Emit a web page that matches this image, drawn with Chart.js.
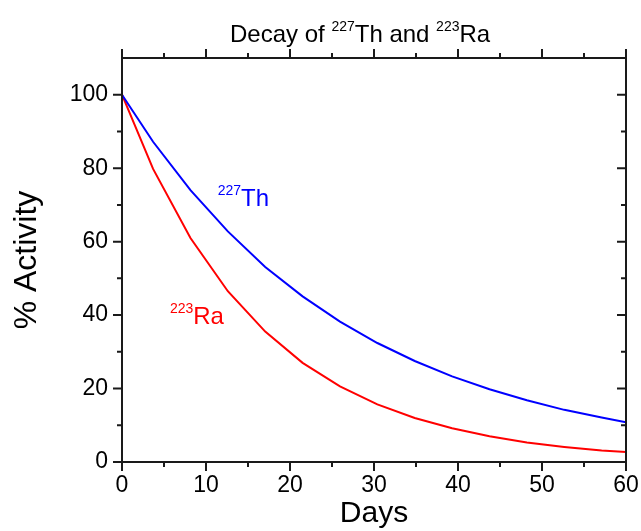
<!DOCTYPE html>
<html>
<head>
<meta charset="utf-8">
<script src="https://cdn.jsdelivr.net/npm/chart.js@4/dist/chart.umd.min.js"></script>
<style>
  html, body { margin: 0; padding: 0; background: #fff; }
  #wrap { width: 641px; height: 531px; }
</style>
</head>
<body>
<div id="wrap"><canvas id="decay" width="641" height="531"></canvas></div>
<script>
// values
const days  = [0, 3.7, 8.15, 12.6, 17.05, 21.5, 25.95, 30.4, 34.85, 39.3, 43.75, 48.2, 52.65, 57.1, 60];
const th227 = [100, 87.2, 74.0, 62.8, 53.1, 45.1, 38.2, 32.4, 27.5, 23.3, 19.8, 16.8, 14.2, 12.1, 10.8];
const ra223 = [100, 79.8, 61.0, 46.5, 35.5, 27.0, 20.6, 15.7, 12.0, 9.2, 7.0, 5.3, 4.1, 3.1, 2.7];

const xTicks = [0, 10, 20, 30, 40, 50, 60];
const xMinor = [5, 15, 25, 35, 45, 55];
const yTicks = [0, 20, 40, 60, 80, 100];
const yMinor = [10, 30, 50, 70, 90];

const FONT = "'Liberation Sans', Arial, sans-serif";
const AXIS = '#1a1a1a';

function pts(ys) {
    return days.map((d, i) => ({ x: d, y: ys[i] }));
}

// draws text like "227Th" with a raised small part
function supText(ctx, parts, x, y, size, supSize, color) {
    ctx.save();
    ctx.fillStyle = color;
    ctx.textBaseline = 'alphabetic';
    ctx.textAlign = 'left';
    let cx = x;
    parts.forEach(p => {
        ctx.font = (p[1] ? supSize : size) + 'px ' + FONT;
        ctx.fillText(p[0], cx, p[1] ? y - size * 0.46 : y);
        cx += ctx.measureText(p[0]).width;
    });
    ctx.restore();
}

const frame_plugin = {
    id: 'frame',
    afterDraw(chart) {
        const ctx = chart.ctx;
        const a = chart.chartArea;
        const xs = chart.scales.x, ys = chart.scales.y;
        ctx.save();
        ctx.strokeStyle = AXIS;
        ctx.lineWidth = 2;
        ctx.strokeRect(a.left, a.top, a.right - a.left, a.bottom - a.top);
        ctx.beginPath();
        const tick = (vals, len) => {
            vals.forEach(v => {
                const px = xs.getPixelForValue(v);
                ctx.moveTo(px, a.bottom); ctx.lineTo(px, a.bottom + len);
                ctx.moveTo(px, a.top); ctx.lineTo(px, a.top - len);
            });
        };
        const ytick = (vals, len) => {
            vals.forEach(v => {
                const py = ys.getPixelForValue(v);
                ctx.moveTo(a.left, py); ctx.lineTo(a.left - len, py);
                ctx.moveTo(a.right, py); ctx.lineTo(a.right - len, py);
            });
        };
        tick(xTicks, 9);
        tick(xMinor, 5);
        ytick(yTicks, 9);
        ytick(yMinor, 5);
        ctx.stroke();
        ctx.restore();

        // title
        supText(ctx, [['Decay of ', false], ['227', true], ['Th and ', false], ['223', true], ['Ra', false]],
            230, 42, 24, 14, '#000');

        // curve labels
        supText(ctx, [['227', true], ['Th', false]],
            xs.getPixelForValue(11.4), ys.getPixelForValue(69.8), 24, 14, '#0000ff');
        supText(ctx, [['223', true], ['Ra', false]],
            xs.getPixelForValue(5.7), ys.getPixelForValue(37.6), 24, 14, '#ff0000');
    }
};

new Chart(document.getElementById('decay'), {
    type: 'scatter',
    data: {
        datasets: [{
            label: '227Th',
            data: pts(th227),
            showLine: true,
            borderColor: '#0000ff',
            borderWidth: 2,
            pointRadius: 0,
            tension: 0
        }, {
            label: '223Ra',
            data: pts(ra223),
            showLine: true,
            borderColor: '#ff0000',
            borderWidth: 2,
            pointRadius: 0,
            tension: 0
        }]
    },
    options: {
        responsive: false,
        animation: false,
        events: [],
        layout: { padding: { left: 0, right: 15, top: 58, bottom: 0 } },
        plugins: {
            legend: { display: false },
            tooltip: { enabled: false }
        },
        scales: {
            x: {
                type: 'linear',
                min: 0,
                max: 60,
                grid: { display: false, drawTicks: false },
                border: { display: false },
                afterBuildTicks: s => { s.ticks = xTicks.map(v => ({ value: v })); },
                afterFit: s => { s.height = 69; s.paddingLeft = 0; s.paddingRight = 0; },
                ticks: { padding: 10, color: '#000', font: { family: FONT, size: 23 }, maxRotation: 0 },
                title: { display: true, text: 'Days', color: '#000', font: { family: FONT, size: 30 }, padding: { bottom: -1 } }
            },
            y: {
                type: 'linear',
                min: 0,
                max: 110,
                grid: { display: false, drawTicks: false },
                border: { display: false },
                afterBuildTicks: s => { s.ticks = yTicks.map(v => ({ value: v })); },
                afterFit: s => { s.width = 122; s.paddingTop = 0; s.paddingBottom = 0; },
                ticks: { padding: 14, color: '#000', font: { family: FONT, size: 23 } },
                title: { display: true, text: '% Activity', color: '#000', font: { family: FONT, size: 32 }, padding: { top: 8 } }
            }
        }
    },
    plugins: [frame_plugin]
});
</script>
</body>
</html>
